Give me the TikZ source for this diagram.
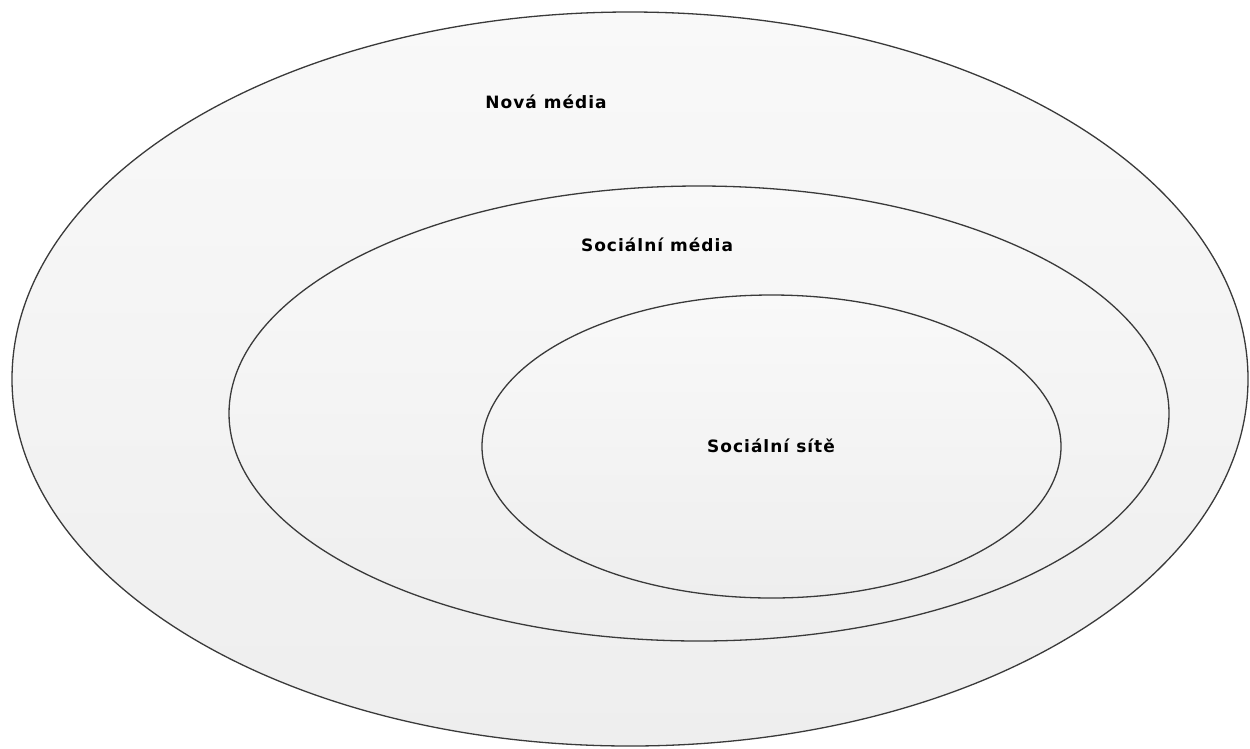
\documentclass[tikz,border=0pt]{standalone}
\usepackage{fontspec}
\setmainfont{DejaVu Sans}
\newfontfamily\lblfont[LetterSpace=6]{DejaVu Sans}
\definecolor{topc}{HTML}{F9F9F9}
\definecolor{botc}{HTML}{EEEEEE}
\definecolor{edge}{HTML}{3A3A3A}
\begin{document}
\begin{tikzpicture}[x=1pt,y=-1pt,
  ring/.style={draw=edge,line width=1.3pt,top color=topc,bottom color=botc},
  lbl/.style={font=\lblfont\fontsize{17}{19}\selectfont\bfseries,inner sep=0pt}]
\useasboundingbox (0,0) rectangle (1250,748);
\fill[white] (0,0) rectangle (1250,748);
\path[ring] (630,379) ellipse [x radius=618,y radius=367];
\path[ring] (699,413.5) ellipse [x radius=470,y radius=227.5];
\path[ring] (771.5,446.5) ellipse [x radius=289.5,y radius=151.5];
\node[lbl] (nova) at (546,102) {Nová média};
\node[lbl] (socm) at (657,245) {Sociální média};
\node[lbl] (socs) at (771,446) {Sociální sítě};
\end{tikzpicture}
\end{document}
